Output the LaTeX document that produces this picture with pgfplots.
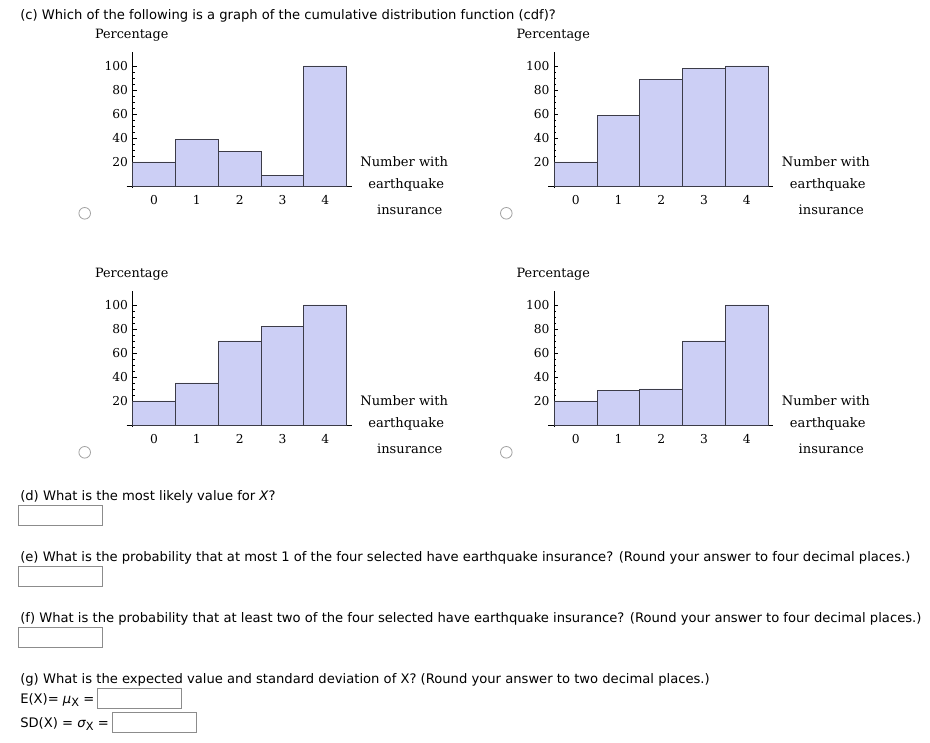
\documentclass[border=0pt]{standalone}
\usepackage{fontspec}
\setmainfont{DejaVu Sans}
\newfontfamily\chartfont{DejaVu Serif}
\usepackage{pgfplots}
\pgfplotsset{compat=1.18}

\definecolor{barfill}{RGB}{204,207,245}
\definecolor{baredge}{RGB}{60,60,72}
\definecolor{boxgray}{RGB}{140,140,140}
\definecolor{radiogray}{RGB}{160,160,160}

\newcommand{\qfont}{\fontsize{9.85}{12}\selectfont}
\newcommand{\cfont}{\chartfont\fontsize{9.2}{11}\selectfont}
\newcommand{\lfont}{\chartfont\fontsize{9.8}{12}\selectfont}

\pgfplotsset{
  cdfhist/.style={
    x=32.1pt, y=0.9pt,
    xmin=-0.14, xmax=5.12, ymin=-1.7, ymax=111.6,
    axis lines=middle,
    axis line style={-, line width=0.6pt},
    tick align=inside,
    xtick={0.5,1.5,2.5,3.5,4.5},
    xticklabels={0,1,2,3,4},
    ytick={20,40,60,80,100},
    minor y tick num=3,
    major tick length=3pt,
    minor tick length=1.5pt,
    tick style={black, line width=0.5pt},
    tick label style={font=\cfont},
    /pgf/number format/assume math mode=true,
    xticklabel style={yshift=-3.5pt},
    anchor=south west,
    clip=false,
  },
  cdfbar/.style={ybar interval, fill=barfill, draw=baredge, line width=0.6pt},
}

\begin{document}
\begin{tikzpicture}[x=0.75pt, y=0.75pt]
\useasboundingbox (0,0) rectangle (930,-742);

% question (c)
\node[anchor=base west, inner sep=0pt, font=\qfont] at (20,-19.5)
  {(c) Which of the following is a graph of the cumulative distribution function (cdf)?};

% top left
\begin{axis}[cdfhist, at={(95pt,-141pt)}]
  \addplot[cdfbar] coordinates {(0,20) (1,39) (2,29) (3,9) (4,100) (5,100)};
\end{axis}
% top right
\begin{axis}[cdfhist, at={(411.2pt,-141pt)}]
  \addplot[cdfbar] coordinates {(0,20) (1,59) (2,89) (3,98) (4,100) (5,100)};
\end{axis}
% bottom left
\begin{axis}[cdfhist, at={(95pt,-320.25pt)}]
  \addplot[cdfbar] coordinates {(0,20) (1,35) (2,70) (3,82) (4,100) (5,100)};
\end{axis}
% bottom right
\begin{axis}[cdfhist, at={(411.2pt,-320.25pt)}]
  \addplot[cdfbar] coordinates {(0,20) (1,29) (2,30) (3,70) (4,100) (5,100)};
\end{axis}

% labels and radio buttons for the four charts
\foreach \X/\Y in {132.7/186, 554.3/186, 132.7/425, 554.3/425} {
  \node[font=\lfont, inner sep=0pt] at (\X-1, -\Y+151) {\fontsize{9.6}{12}\selectfont Percentage};
  \node[font=\lfont, inner sep=0pt] at (\X+271.5, -\Y+24.3) {Number with};
  \node[font=\lfont, inner sep=0pt] at (\X+273.5, -\Y+1) {earthquake};
  \node[font=\lfont, inner sep=0pt] at (\X+277, -\Y-23.3) {insurance};
  \draw[radiogray, line width=0.6pt] (\X-48, -\Y-27.3) circle[radius=5.8];
}

% questions (d)-(g)
\node[anchor=base west, inner sep=0pt, font=\qfont] at (20,-500)
  {(d) What is the most likely value for \textit{X}?};
\draw[boxgray, line width=0.6pt] (18,-505.5) rectangle (102,-525.5);

\node[anchor=base west, inner sep=0pt, font=\qfont] at (20,-561)
  {(e) What is the probability that at most 1 of the four selected have earthquake insurance? (Round your answer to four decimal places.)};
\draw[boxgray, line width=0.6pt] (18,-566.5) rectangle (102,-586.5);

\node[anchor=base west, inner sep=0pt, font=\qfont] at (20,-622)
  {(f) What is the probability that at least two of the four selected have earthquake insurance? (Round your answer to four decimal places.)};
\draw[boxgray, line width=0.6pt] (18,-627.5) rectangle (102,-647.5);

\node[anchor=base west, inner sep=0pt, font=\qfont] at (20,-683)
  {(g) What is the expected value and standard deviation of X? (Round your answer to two decimal places.)};
\node[anchor=base west, inner sep=0pt, font=\qfont] at (20,-703.5)
  {E(X)= \textit{μ}\raisebox{-0.4ex}{\fontsize{8.5}{9}\selectfont X} =};
\draw[boxgray, line width=0.6pt] (97.5,-688) rectangle (181,-708.5);
\node[anchor=base west, inner sep=0pt, font=\qfont] at (20,-727.5)
  {SD(X) = \textit{σ}\raisebox{-0.4ex}{\fontsize{8.5}{9}\selectfont X} =};
\draw[boxgray, line width=0.6pt] (112.5,-712) rectangle (196,-732.5);
\end{tikzpicture}
\end{document}
